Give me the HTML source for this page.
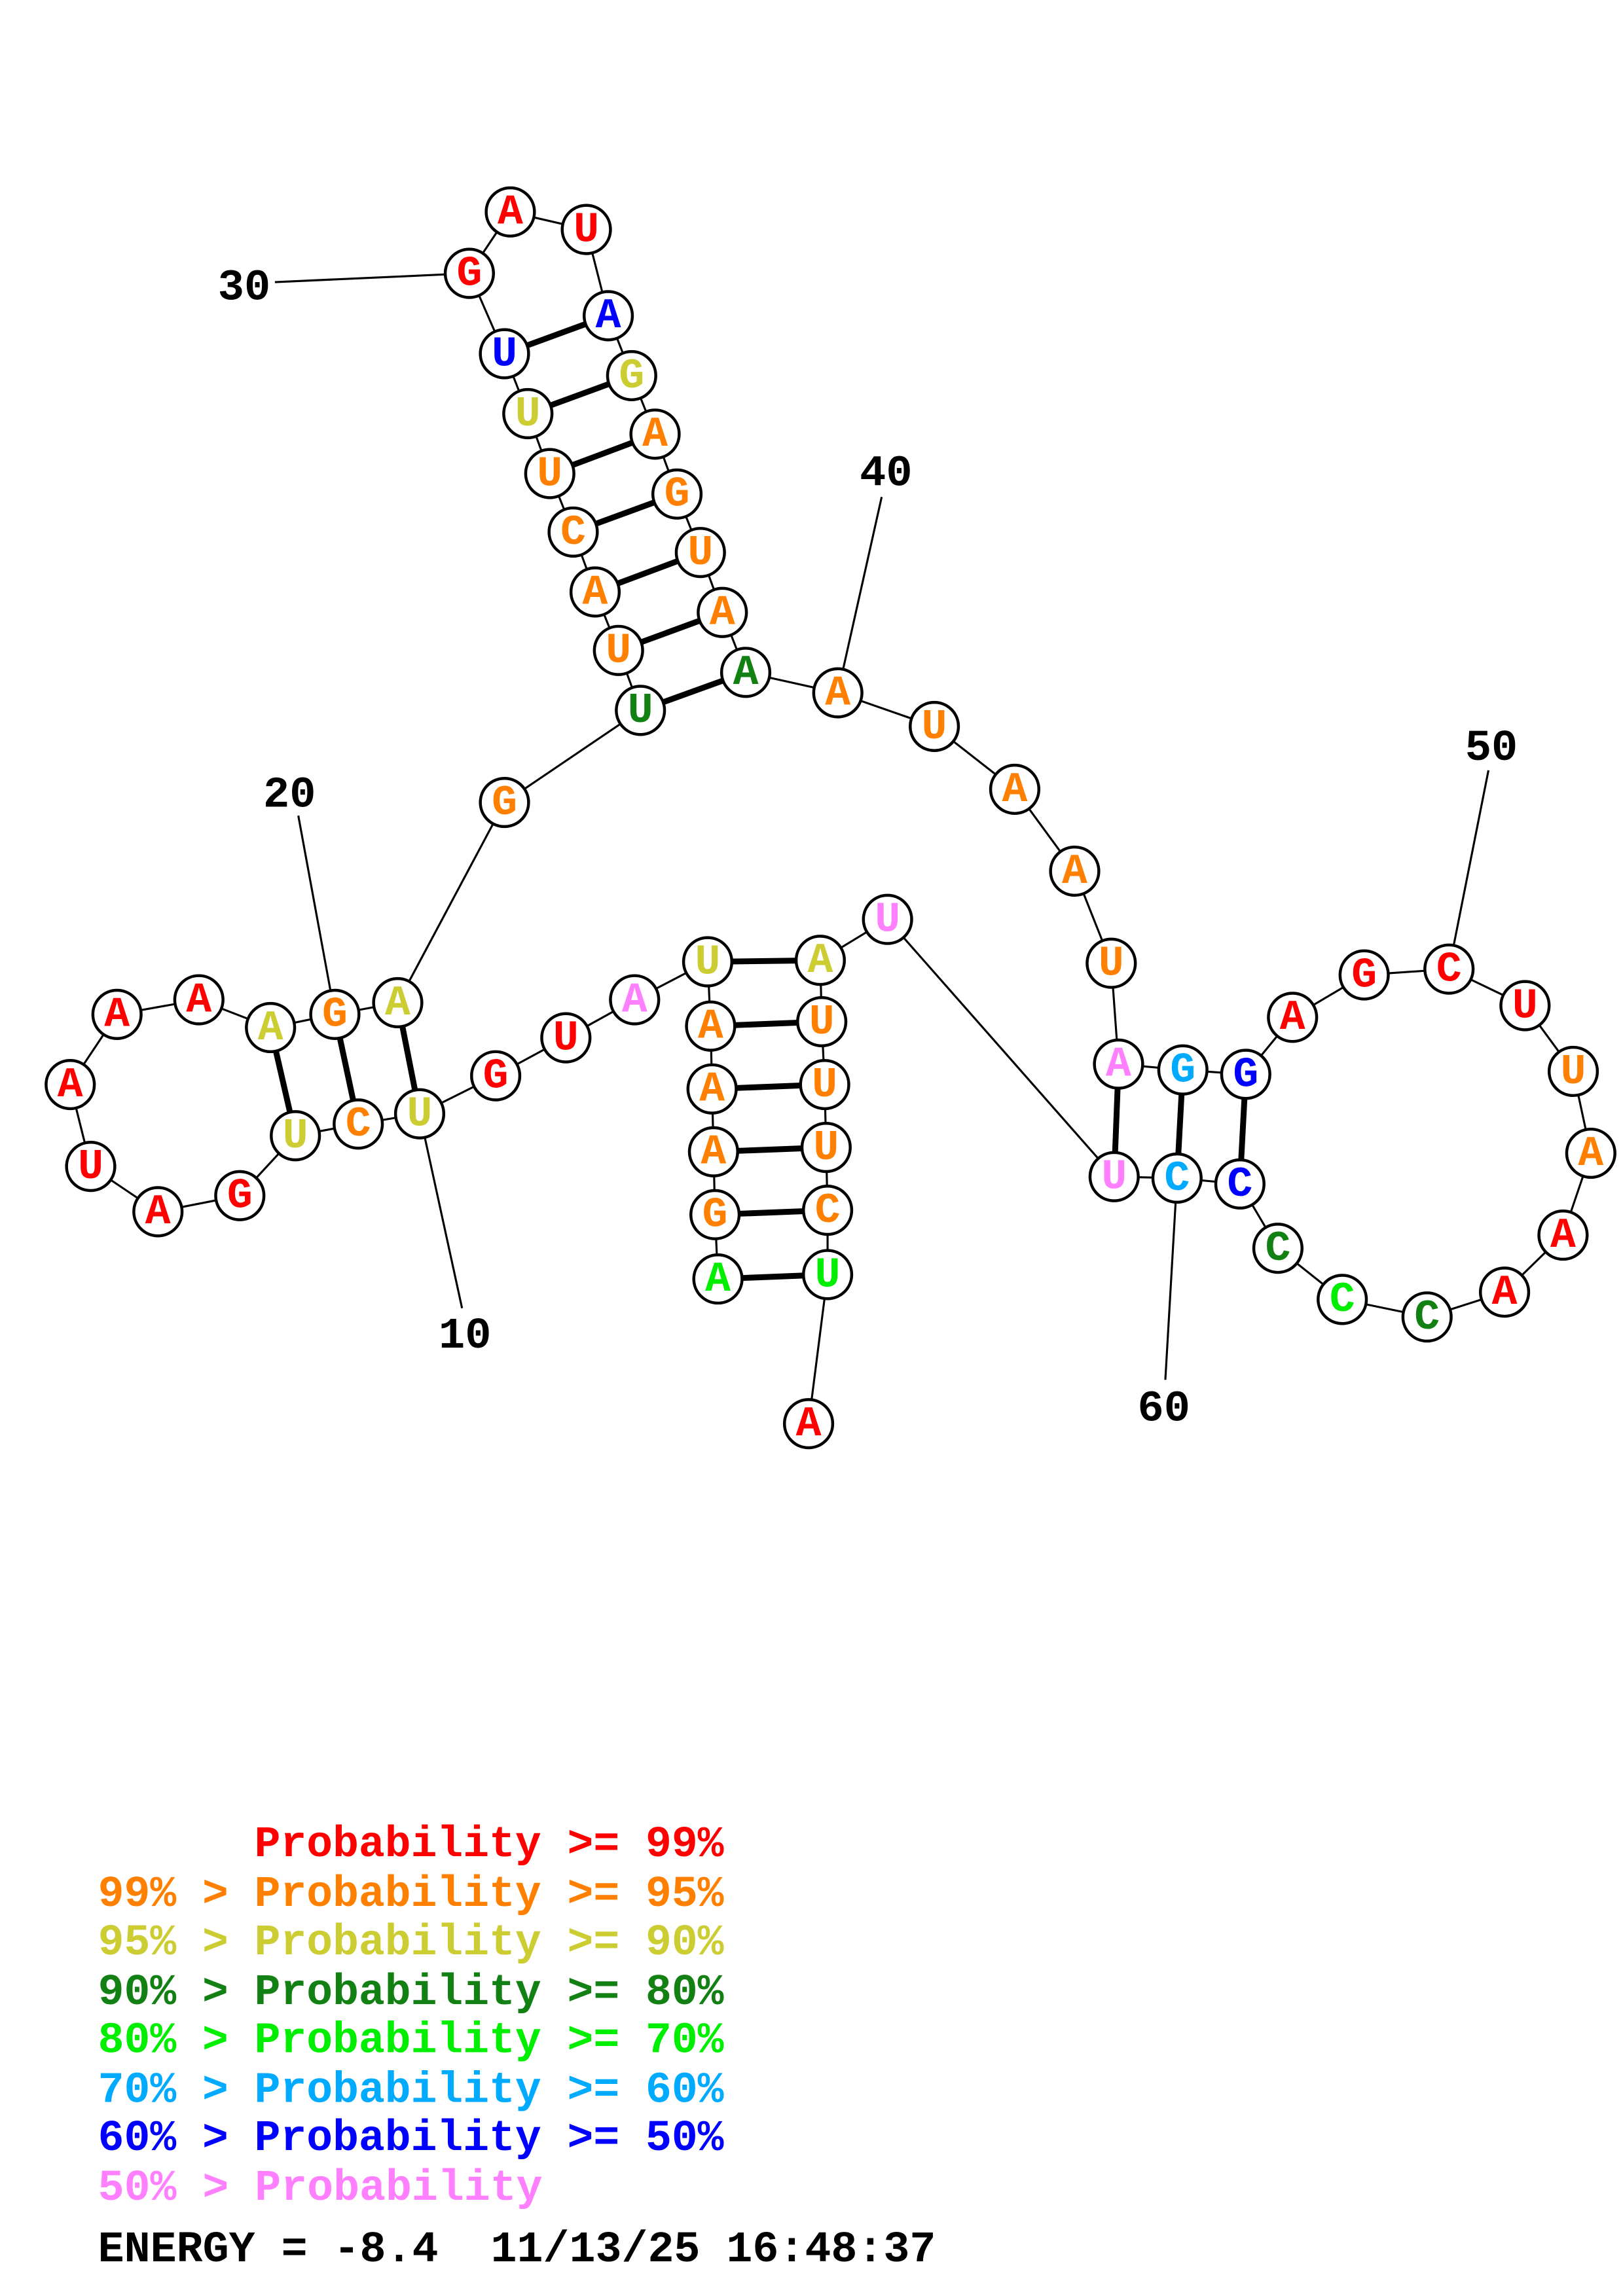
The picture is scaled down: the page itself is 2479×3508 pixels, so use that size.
<!DOCTYPE html>
<html><head><meta charset="utf-8"><style>html,body{margin:0;padding:0;background:#fff}svg{display:block}</style></head><body>
<svg xmlns="http://www.w3.org/2000/svg" width="2479" height="3508" viewBox="0 0 1110 1570.8">
<rect width="1110" height="1570.8" fill="#fff"/>
<g id="g"></g>
<script><![CDATA[
var R='#ff0000',O='#ff8000',Y='#cccc33',D='#138013',G='#00ee00',S='#00aaff',B='#0000ff',P='#ff80ff';
var n=[
['A',491,875,G],['G',489,831,O],['A',488,788,O],['A',487,745,O],['A',486,702,O],['U',484,658,Y],['A',434,684,P],['U',387,710,R],['G',339,736,R],['U',287,762,Y],
['C',245,769,O],['U',202,777,Y],['G',164,818,R],['A',108,829,R],['U',62,798,R],['A',48,742,R],['A',80,694,R],['A',136,684,R],['A',185,703,Y],['G',229,694,O],
['A',272,686,Y],['G',345,549,O],['U',438,486,D],['U',423,445,O],['A',407,405,O],['C',392,364,O],['U',376,324,O],['U',361,283,Y],['U',345,242,B],['G',321,187,R],
['A',349,145,R],['U',401,157,R],['A',416,216,B],['G',432,257,Y],['A',448,297,O],['G',463,338,O],['U',479,378,O],['A',494,419,O],['A',510,460,D],['A',573,474,O],
['U',639,497,O],['A',694,540,O],['A',735,596,O],['U',760,659,O],['A',765,728,P],['G',809,732,S],['G',852,735,B],['A',884,696,R],['G',933,667,R],['C',991,663,R],
['U',1043,688,R],['U',1076,733,O],['A',1088,789,O],['A',1069,845,R],['A',1029,884,R],['C',976,901,D],['C',918,889,G],['C',874,854,D],['C',848,810,B],['C',805,806,S],
['U',762,805,P],['U',607,629,P],['A',561,657,Y],['U',562,699,O],['U',564,742,O],['U',565,785,O],['C',566,828,O],['U',566,872,G],['A',553,974,R]];
var pairs=[[6,63],[5,64],[4,65],[3,66],[2,67],[1,68],[12,19],[11,20],[10,21],[23,39],[24,38],[25,37],[26,36],[27,35],[28,34],[29,33],[45,61],[46,60],[47,59]];
var labs=[[10,316,895,318,914,'10'],[20,204,558,198,544,'20'],[30,188,193,167,197,'30'],[40,603,340,606,324,'40'],[50,1018,527,1020,512,'50'],[60,797,944,796,964,'60']];
var s='';
for(var i=0;i<n.length-1;i++)s+='<line x1="'+n[i][1]+'" y1="'+n[i][2]+'" x2="'+n[i+1][1]+'" y2="'+n[i+1][2]+'" stroke="#000" stroke-width="1.4"/>';
labs.forEach(function(l){var a=n[l[0]-1];s+='<line x1="'+a[1]+'" y1="'+a[2]+'" x2="'+l[1]+'" y2="'+l[2]+'" stroke="#000" stroke-width="1.4"/>';
s+='<text x="'+l[3]+'" y="'+l[4]+'" font-family="Liberation Mono,monospace" font-weight="bold" font-size="30" text-anchor="middle" dominant-baseline="middle">'+l[5]+'</text>';});
pairs.forEach(function(p){var a=n[p[0]-1],b=n[p[1]-1];s+='<line x1="'+a[1]+'" y1="'+a[2]+'" x2="'+b[1]+'" y2="'+b[2]+'" stroke="#000" stroke-width="4"/>';});
n.forEach(function(a){s+='<circle cx="'+a[1]+'" cy="'+a[2]+'" r="16.5" fill="#fff" stroke="#000" stroke-width="2"/>';
s+='<text x="'+a[1]+'" y="'+(a[2]+8)+'" font-family="Liberation Mono,monospace" font-weight="bold" font-size="29" fill="'+a[3]+'" text-anchor="middle">'+a[0]+'</text>';});
document.getElementById('g').innerHTML=s;
]]></script>
<g font-family="Liberation Mono,monospace" font-weight="bold" font-size="30" transform="translate(0,4)">
<text x="174" y="1266" fill="#ff0000" textLength="321" lengthAdjust="spacingAndGlyphs">Probability &gt;= 99%</text>
<text x="67" y="1300" fill="#ff8000" textLength="428" lengthAdjust="spacingAndGlyphs">99% &gt; Probability &gt;= 95%</text>
<text x="67" y="1333" fill="#cccc33" textLength="428" lengthAdjust="spacingAndGlyphs">95% &gt; Probability &gt;= 90%</text>
<text x="67" y="1367" fill="#138013" textLength="428" lengthAdjust="spacingAndGlyphs">90% &gt; Probability &gt;= 80%</text>
<text x="67" y="1400" fill="#00ee00" textLength="428" lengthAdjust="spacingAndGlyphs">80% &gt; Probability &gt;= 70%</text>
<text x="67" y="1434" fill="#00aaff" textLength="428" lengthAdjust="spacingAndGlyphs">70% &gt; Probability &gt;= 60%</text>
<text x="67" y="1467" fill="#0000ff" textLength="428" lengthAdjust="spacingAndGlyphs">60% &gt; Probability &gt;= 50%</text>
<text x="67" y="1501" fill="#ff80ff" textLength="304" lengthAdjust="spacingAndGlyphs">50% &gt; Probability</text>
<text x="67" y="1543" fill="#000" textLength="573" lengthAdjust="spacingAndGlyphs" xml:space="preserve">ENERGY = -8.4  11/13/25 16:48:37</text>
</g>
</svg>
</body></html>
